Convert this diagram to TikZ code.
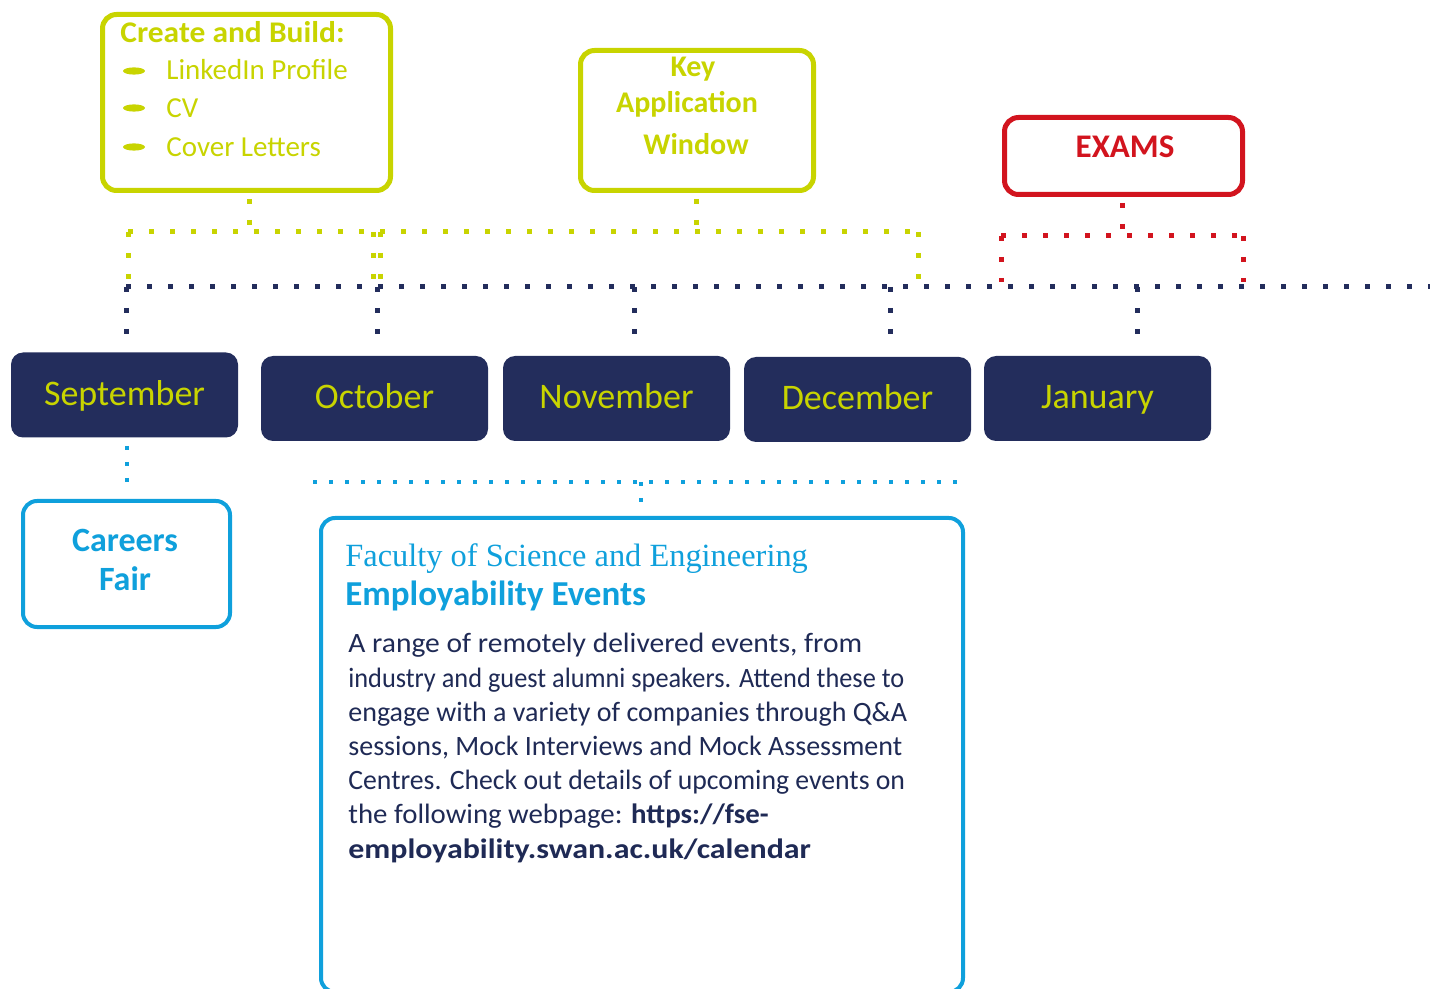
\documentclass[tikz,border=0pt]{standalone}
\usepackage{fontspec}
\setmainfont{Carlito}
\newfontfamily\serfont{Liberation Serif}
\usetikzlibrary{calc}
\definecolor{lime}{HTML}{C8D400}
\definecolor{navy}{HTML}{232D5C}
\definecolor{exred}{HTML}{D2141E}
\definecolor{cyanb}{HTML}{0FA0DC}
\definecolor{bodytext}{HTML}{1F2A55}
\tikzset{
  box/.style={draw, rounded corners=7pt, line width=2.5pt, fill=white, inner sep=0pt},
  monthbox/.style={fill=navy, rounded corners=6pt, minimum width=113.5pt, minimum height=42.5pt,
    inner sep=0pt, text=lime, font=\fontsize{18}{20}\selectfont, text height=10.5pt, text depth=0pt},
  navydots/.style={navy, line width=2.5pt, dash pattern=on 2.5pt off 8pt},
  limedots/.style={lime, line width=2.5pt, dash pattern=on 2.5pt off 8pt},
  reddots/.style={exred, line width=2.5pt, dash pattern=on 2.5pt off 8pt},
  cyandots/.style={cyanb, line width=2pt, dash pattern=on 2pt off 6pt},
  lbl/.style={inner sep=0pt, anchor=base},
  lblw/.style={inner sep=0pt, anchor=base west},
}
\begin{document}
\begin{tikzpicture}[x=0.5pt,y=-0.5pt]
\useasboundingbox (0,0) rectangle (1430,989);
\clip (0,0) rectangle (1430,989);

% ---- top boxes
\node[box, draw=lime, minimum width=144pt, minimum height=88pt] (create) at (246.5,102.5) {};
\node[lblw, text=lime, font=\bfseries\fontsize{15}{17}\selectfont] (cbt) at (120,43) {\scalebox{1.05}[1]{Create and Build:}};
\fill[lime] (134,71) ellipse (5.5pt and 1.8pt);
\fill[lime] (134,108) ellipse (5.5pt and 1.8pt);
\fill[lime] (134,147) ellipse (5.5pt and 1.8pt);
\node[lblw, text=lime, font=\fontsize{14.5}{17}\selectfont] (cb1) at (166,80) {LinkedIn Profile};
\node[lblw, text=lime, font=\fontsize{14.5}{17}\selectfont] (cb2) at (166,118) {CV};
\node[lblw, text=lime, font=\fontsize{14.5}{17}\selectfont] (cb3) at (166,157) {Cover Letters};

\node[box, draw=lime, minimum width=116.5pt, minimum height=70pt] (key) at (697,120.5) {};
\node[lbl, text=lime, font=\bfseries\fontsize{15}{17}\selectfont] (k1) at (693,77) {Key};
\node[lbl, text=lime, font=\bfseries\fontsize{15}{17}\selectfont] (k2) at (687,113) {Application};
\node[lbl, text=lime, font=\bfseries\fontsize{15}{17}\selectfont] (k3) at (696,155) {Window};

\node[box, draw=exred, minimum width=119pt, minimum height=38.5pt] (exams) at (1123.5,156) {};
\node[lbl, text=exred, font=\bfseries\fontsize{16.5}{18}\selectfont] (ex) at (1125,158) {EXAMS};

% ---- months
\node[monthbox] (sep) at (124.5,395) {September};
\node[monthbox] (oct) at (374.5,398.5) {October};
\node[monthbox] (nov) at (616.5,398.5) {November};
\node[monthbox] (dec) at (857.5,399.5) {December};
\node[monthbox] (jan) at (1097.5,398.5) {January};

% ---- bottom boxes
\node[box, draw=cyanb, line width=2pt, minimum width=103.5pt, minimum height=63pt] (careers) at (126.5,564) {};
\node[lbl, text=cyanb, font=\bfseries\fontsize{17}{19}\selectfont] (ca1) at (125,552) {Careers};
\node[lbl, text=cyanb, font=\bfseries\fontsize{17}{19}\selectfont] (ca2) at (125,590) {Fair};

\node[box, draw=cyanb, line width=2pt, minimum width=321pt, minimum height=237pt] (fse) at (642,755) {};
\node[lblw, text=cyanb, font=\serfont\fontsize{16.2}{18}\selectfont] (f1) at (345,567) {Faculty of Science and Engineering};
\node[lblw, text=cyanb, font=\bfseries\fontsize{17.5}{19}\selectfont] (f2) at (345,605) {Employability Events};
\node[lblw, text=bodytext, align=left, font=\fontsize{14}{17.1}\selectfont] (body) at (348,858)
 {\scalebox{1.055}[1]{A range of remotely delivered events, from}\\
  \scalebox{0.94}[1]{industry and guest alumni speakers. Attend these to}\\
  engage with a variety of companies through Q\&A\\
  sessions, Mock Interviews and Mock Assessment\\
  \scalebox{0.99}[1]{Centres. Check out details of upcoming events on}\\
  \scalebox{1.03}[1]{the following webpage: \textbf{https://fse-}}\\
  \scalebox{1.14}[1]{\textbf{employability.swan.ac.uk/calendar}}};

% ---- navy timeline
\coordinate (nL) at (126,287);
\coordinate (nR) at (1430,287);
\coordinate (d2) at (377,287);
\coordinate (d3) at (634,287);
\coordinate (d4) at (890,287);
\coordinate (d5) at (1137,287);
\draw[navydots] (nL) -- (nR);
\draw[navydots, shorten >=4pt] (nL) -- (nL |- sep.north);
\draw[navydots, shorten >=4pt] (d2) -- (d2 |- oct.north);
\draw[navydots, shorten >=4pt] (d3) -- (d3 |- nov.north);
\draw[navydots, shorten >=4pt] (d4) -- (d4 |- dec.north);
\draw[navydots, shorten >=4pt] (d5) -- (d5 |- jan.north);

% ---- lime connectors
\coordinate (gA) at (249,232);
\coordinate (gL) at (128,232);
\coordinate (gR) at (918,232);
\coordinate (gK) at (696,232);
\coordinate (gM1) at (373,232);
\coordinate (gM2) at (380,232);
\coordinate (gLb) at (128,280);
\coordinate (gRb) at (918,280);
\coordinate (gM1b) at (373,280);
\coordinate (gM2b) at (380,280);
\draw[limedots, shorten <=3pt] (gA |- create.south) -- (gA);
\draw[limedots, shorten <=3pt] (gK |- key.south) -- (gK);
\draw[limedots] (gL) -- (gR);
\draw[limedots] (gL) -- (gLb);
\draw[limedots] (gR) -- (gRb);
\draw[limedots] (gM1) -- (gM1b);
\draw[limedots] (gM2) -- (gM2b);

% ---- red connectors
\coordinate (rA) at (1122,236);
\coordinate (rL) at (1001,236);
\coordinate (rR) at (1243,236);
\coordinate (rLb) at (1001,282);
\coordinate (rRb) at (1243,282);
\draw[reddots, shorten <=3pt] (rA |- exams.south) -- (rA);
\draw[reddots] (rL) -- (rR);
\draw[reddots] (rL) -- (rLb);
\draw[reddots] (rR) -- (rRb);

% ---- cyan connectors
\coordinate (cL) at (313,482);
\coordinate (cR) at (968,482);
\coordinate (cM) at (641,482);
\draw[cyandots, shorten <=4pt, shorten >=4pt] (careers.north |- sep.south) -- (careers.north);
\draw[cyandots] (cL) -- (cR);
\draw[cyandots, shorten >=4pt] (cM) -- (cM |- fse.north);
\end{tikzpicture}
\end{document}
